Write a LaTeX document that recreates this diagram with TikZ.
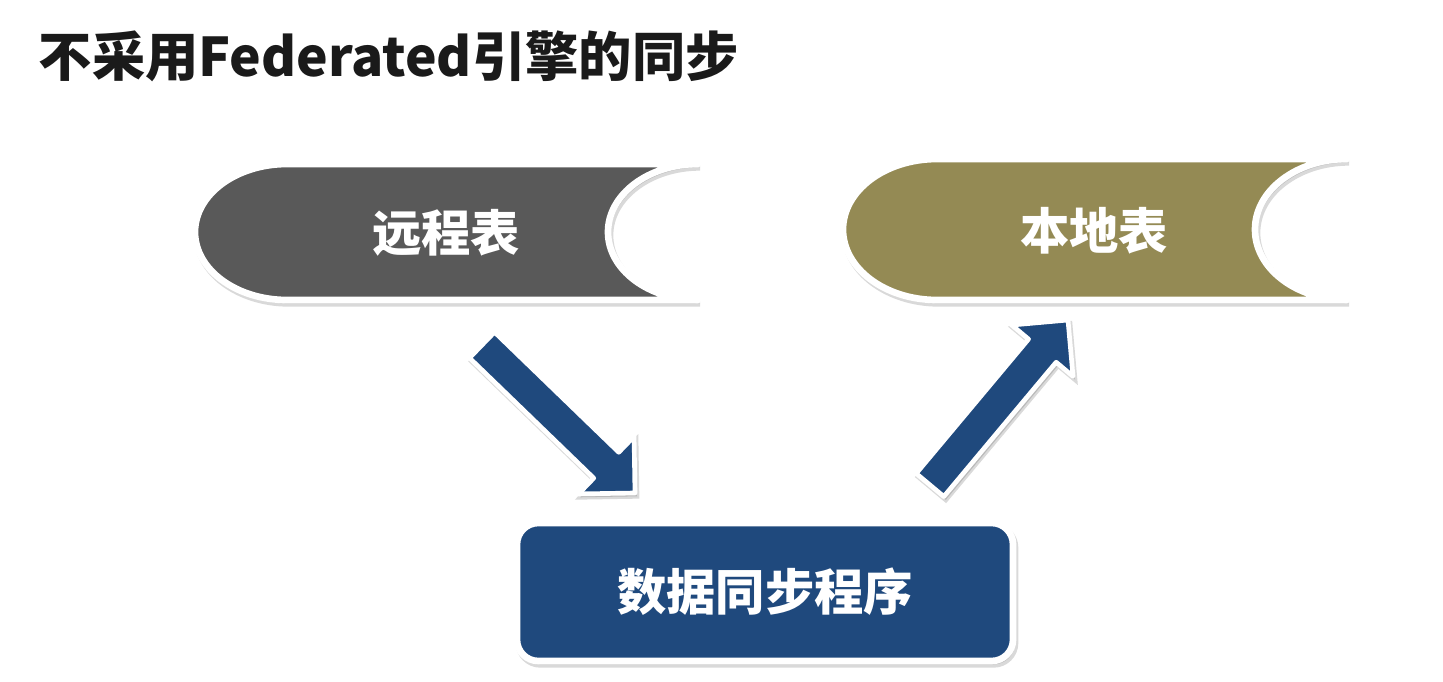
\documentclass[tikz,border=0pt]{standalone}
\usepackage{fontspec}
\newfontfamily\cjk{Noto Sans CJK SC}
\usetikzlibrary{calc}
\usetikzlibrary{shadows}

\definecolor{remotegray}{RGB}{89,89,89}
\definecolor{localolive}{RGB}{148,138,84}
\definecolor{syncblue}{RGB}{31,73,125}
\definecolor{titleblack}{RGB}{26,26,26}

\begin{document}
\begin{tikzpicture}[x=0.75pt,y=0.75pt,yscale=-1,xscale=1,
  softshadow/.style={drop shadow={fill=black, draw=black, line width=5pt, opacity=0.15, shadow xshift=1.5pt, shadow yshift=-2.5pt}},
  storeshape/.style={draw=white, line width=5pt, line join=round, softshadow},
  bigarrow/.style={fill=syncblue, draw=white, line width=3.5pt, line join=round,
    drop shadow={fill=black, draw=black, line width=3.5pt, opacity=0.15, shadow xshift=1.5pt, shadow yshift=-2.5pt}},
  tabletext/.style={text=white, font=\cjk\bfseries\fontsize{37}{44}\selectfont},
  syncbox/.style={fill=syncblue, draw=white, line width=5pt, rounded corners=16pt,
    minimum width=372pt, minimum height=103.5pt, softshadow, tabletext}]
\useasboundingbox (0,0) rectangle (1443,682);

% Text Node
\node[anchor=west, text=titleblack, font=\cjk\bfseries\fontsize{40}{48}\selectfont] (title) at (34,56) {不采用Federated引擎的同步};

%Shape: Stored Data (remote)
\draw[storeshape, fill=remotegray] (698,164) -- (287,164) arc[start angle=270, end angle=90, x radius=92, y radius=68] -- (698,300) arc[start angle=90, end angle=270, x radius=90, y radius=68] -- cycle;
% Text Node
\node[tabletext] (remote) at (446,233) {远程表};

%Shape: Stored Data (local)
\draw[storeshape, fill=localolive] (1347,159) -- (937,159) arc[start angle=270, end angle=90, x radius=94, y radius=70.5] -- (1347,300) arc[start angle=90, end angle=270, x radius=92, y radius=70.5] -- cycle;
% Text Node
\node[tabletext] (local) at (1094,231) {本地表};

%Shape: Rounded Rect (sync)
\node[syncbox] (sync) at (765,592) {数据同步程序};

%Block Arrow: remote -> sync
\coordinate (a1s) at (482,345);
\coordinate (a1e) at (635,493);
\coordinate (a1h) at ($(a1e)!30pt!(a1s)$);
\path[bigarrow] ($(a1s)!13.5pt!90:(a1e)$) -- ($(a1h)!13.5pt!90:(a1e)$) -- ($(a1h)!30pt!90:(a1e)$) -- (a1e) -- ($(a1h)!30pt!-90:(a1e)$) -- ($(a1h)!13.5pt!-90:(a1e)$) -- ($(a1s)!13.5pt!-90:(a1e)$) -- cycle;

%Block Arrow: sync -> local
\coordinate (a2s) at (930,485);
\coordinate (a2e) at (1068,320);
\coordinate (a2h) at ($(a2e)!30pt!(a2s)$);
\path[bigarrow] ($(a2s)!13.5pt!90:(a2e)$) -- ($(a2h)!13.5pt!90:(a2e)$) -- ($(a2h)!30pt!90:(a2e)$) -- (a2e) -- ($(a2h)!30pt!-90:(a2e)$) -- ($(a2h)!13.5pt!-90:(a2e)$) -- ($(a2s)!13.5pt!-90:(a2e)$) -- cycle;

\end{tikzpicture}
\end{document}
